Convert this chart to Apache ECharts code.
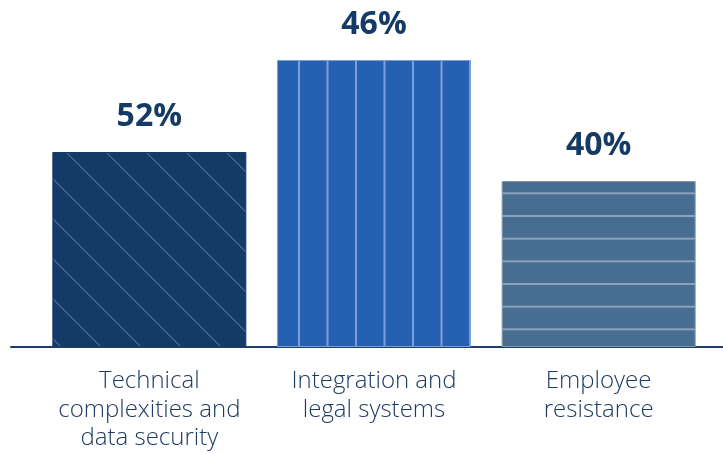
<!DOCTYPE html>
<html>
<head>
<meta charset="utf-8">
<script src="https://cdn.jsdelivr.net/npm/echarts@6/dist/echarts.min.js"></script>
<style>
  html, body { margin: 0; padding: 0; background: #fff; }
  #chart-container { width: 723px; height: 454px; }
</style>
</head>
<body>
<div id="chart-container"></div>
<script>
// categories (two or three line labels)
var categories = [
  'Technical\ncomplexities and\ndata security',
  'Integration and\nlegal systems',
  'Employee\nresistance'
];

// bar heights as drawn in the picture (relative units)
var barHeights = [195, 287, 166];

// text shown above each bar
var barLabels = ['52%', '46%', '40%'];

// build a repeating canvas pattern
function makePattern(w, h, bg, draw) {
  var c = document.createElement('canvas');
  c.width = w;
  c.height = h;
  var ctx = c.getContext('2d');
  ctx.fillStyle = bg;
  ctx.fillRect(0, 0, w, h);
  draw(ctx);
  return { image: c, repeat: 'repeat' };
}

// diagonal lines, top-left to bottom-right
var diagFill = makePattern(40, 40, '#143a66', function (ctx) {
  ctx.strokeStyle = '#5670a0';
  ctx.lineWidth = 1.1;
  for (var k = -2; k <= 1; k++) {
    ctx.beginPath();
    ctx.moveTo(34 + 40 * k - 2, -2);
    ctx.lineTo(34 + 40 * k + 42, 42);
    ctx.stroke();
  }
});

// vertical lines
var vertFill = makePattern(57, 20, '#2660b0', function (ctx) {
  ctx.fillStyle = '#7e9ddb';
  ctx.fillRect(13, 0, 2, 20);
  ctx.fillRect(41.5, 0, 2, 20);
});

// horizontal lines
var horizFill = makePattern(20, 68, '#476d91', function (ctx) {
  ctx.fillStyle = '#8ba2bd';
  ctx.fillRect(0, 11, 20, 2);
  ctx.fillRect(0, 33.7, 20, 2);
  ctx.fillRect(0, 56.3, 20, 2);
});

var fills = [diagFill, vertFill, horizFill];
var borders = ['#143a66', '#7e9ddb', '#7f98b5'];

var dom = document.getElementById('chart-container');
var myChart = echarts.init(dom, null, { renderer: 'canvas' });

var barData = barHeights.map(function (v, i) {
  return {
    value: v,
    itemStyle: { color: fills[i], borderColor: borders[i], borderWidth: 1 },
    label: { formatter: barLabels[i] }
  };
});

var option = {
  animation: false,
  backgroundColor: '#ffffff',
  grid: [
    { left: 37, right: 12, top: 60, bottom: 107 },
    { left: 11, right: 0, top: 60, bottom: 107 }
  ],
  xAxis: [
    {
      type: 'category',
      gridIndex: 0,
      data: categories,
      axisLine: { show: false },
      axisTick: { show: false },
      axisLabel: {
        interval: 0,
        margin: 20,
        color: '#1d3c62',
        fontFamily: 'Open Sans',
        fontWeight: 300,
        fontSize: 24,
        lineHeight: 28.5
      }
    },
    {
      type: 'value',
      gridIndex: 1,
      min: 0,
      max: 1,
      axisLine: { show: true, lineStyle: { color: '#1b3f6a', width: 2 } },
      axisTick: { show: false },
      axisLabel: { show: false },
      splitLine: { show: false }
    }
  ],
  yAxis: [
    { type: 'value', gridIndex: 0, min: 0, max: 287, show: false },
    { type: 'value', gridIndex: 1, min: 0, max: 1, show: false }
  ],
  series: [
    {
      type: 'bar',
      xAxisIndex: 0,
      yAxisIndex: 0,
      barWidth: 194,
      data: barData,
      label: {
        show: true,
        position: 'top',
        distance: 19,
        color: '#163a66',
        fontFamily: 'Open Sans',
        fontWeight: 'bold',
        fontSize: 32,
        lineHeight: 32
      }
    }
  ]
};

myChart.setOption(option);
</script>
</body>
</html>
